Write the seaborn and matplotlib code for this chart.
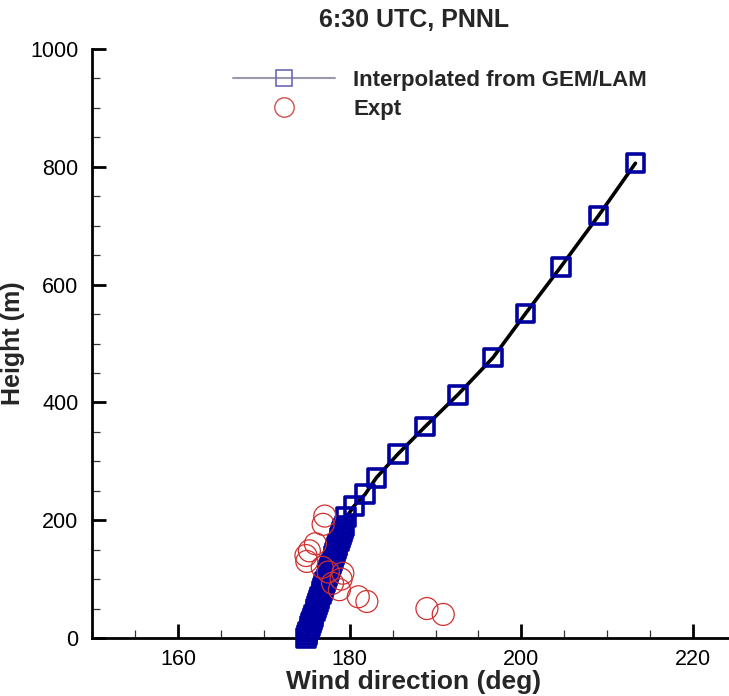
import matplotlib
matplotlib.use("Agg")
import matplotlib.pyplot as plt
import seaborn as sns
import pandas as pd
from matplotlib.lines import Line2D
from matplotlib.ticker import MultipleLocator

# ---- data ----
model_height = [0, 5, 10, 15, 20, 25, 30, 35, 40, 45, 50, 55, 60, 65, 70, 75, 80, 85, 90, 95,
                100, 105, 110, 115, 120, 125, 130, 135, 140, 145, 150, 155, 160, 165, 170, 175,
                180, 185, 190, 205, 224, 244, 272, 312, 359, 413, 476, 551, 630, 717, 806]
model_dir = [174.9, 175.0, 175.1, 175.3, 175.4, 175.5, 175.6, 175.7, 175.8, 176.0, 176.1, 176.2,
             176.3, 176.4, 176.5, 176.7, 176.8, 176.9, 177.0, 177.1, 177.3, 177.4, 177.5, 177.6,
             177.7, 177.8, 178.0, 178.1, 178.2, 178.3, 178.4, 178.5, 178.6, 178.8, 178.9, 179.0,
             179.1, 179.2, 179.4, 179.6, 180.5, 181.8, 183.1, 185.6, 188.8, 192.6, 196.7, 200.5,
             204.6, 209.0, 213.3]

expt_dir = [177.1, 176.9, 176.0, 175.3, 174.9, 175.0, 176.8, 177.5, 179.2, 179.0, 178.0, 178.8,
            181.0, 182.0, 189.0, 190.9]
expt_height = [207, 193, 160, 148, 140, 130, 120, 112, 110, 100, 93, 82, 70, 62, 50, 40]

title = "6:30 UTC, PNNL"
xlabel = "Wind direction (deg)"
ylabel = "Height (m)"
legend_labels = ["Interpolated from GEM/LAM", "Expt"]

model = pd.DataFrame({"dir": model_dir, "height": model_height})
expt = pd.DataFrame({"dir": expt_dir, "height": expt_height})

sns.set_style("white")
plt.rcParams["font.family"] = ["Liberation Sans", "DejaVu Sans"]

fig = plt.figure(figsize=(7.29, 6.96), dpi=100)
ax = fig.add_axes([92.3 / 729, 1 - 638 / 696, 643.5 / 729, 589 / 696])

sns.lineplot(data=model, x="dir", y="height", sort=False, estimator=None,
             color="black", linewidth=2.6, ax=ax, zorder=2)
sns.scatterplot(data=model, x="dir", y="height", marker="s", s=160,
                facecolor="none", edgecolor="#0000a0", linewidth=2.6, ax=ax, zorder=3,
                clip_on=False)
sns.scatterplot(data=expt, x="dir", y="height", marker="o", s=250,
                facecolor="none", edgecolor="#d03030", linewidth=0.9, ax=ax, zorder=4)

ax.set_xlim(150, 225)
ax.set_ylim(0, 1000)
ax.xaxis.set_major_locator(MultipleLocator(20))
ax.xaxis.set_minor_locator(MultipleLocator(5))
ax.yaxis.set_major_locator(MultipleLocator(200))
ax.yaxis.set_minor_locator(MultipleLocator(50))
ax.set_xticks([160, 180, 200, 220])

for s in ["top", "right"]:
    ax.spines[s].set_visible(False)
for s in ["left", "bottom"]:
    ax.spines[s].set_linewidth(2.0)
    ax.spines[s].set_color("black")

ax.tick_params(which="major", direction="in", length=10, width=2.0, labelsize=15.5,
               pad=8, colors="black")
ax.tick_params(which="minor", direction="in", length=6, width=0.9, colors="#333333")
ax.tick_params(axis="y", which="both", left=True)
ax.tick_params(axis="x", which="both", bottom=True)
ax.tick_params(axis="y", which="major", pad=10)

ax.set_xlabel(xlabel, fontsize=19, fontweight="bold", labelpad=0)
ax.set_ylabel(ylabel, fontsize=18, fontweight="bold", labelpad=4)
ax.set_title(title, fontsize=18, fontweight="bold", pad=16)

handles = [
    Line2D([0], [0], color="#9a9aae", linewidth=1.5, marker="s", markersize=11,
           markerfacecolor="none", markeredgecolor="#6a6ab8", markeredgewidth=1.2),
    Line2D([0], [0], color="none", marker="o", markersize=14,
           markerfacecolor="none", markeredgecolor="#d05050", markeredgewidth=1.0),
]
leg = ax.legend(handles, legend_labels, loc="upper left", bbox_to_anchor=(0.2187, 0.965),
                borderaxespad=0, borderpad=0,
                frameon=False, handlelength=4.6, handletextpad=0.8, labelspacing=0.38,
                prop={"weight": "bold", "size": 16})

fig.savefig("out.png", dpi=100)
